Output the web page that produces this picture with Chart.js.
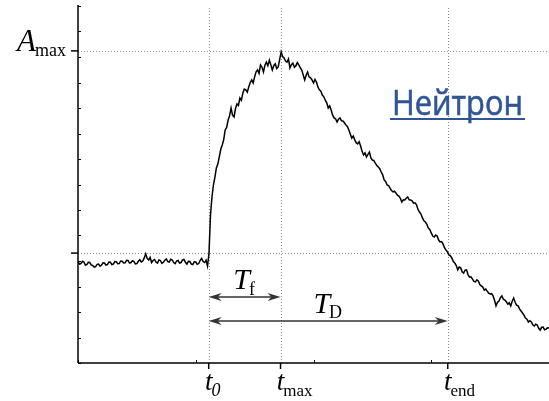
<!DOCTYPE html>
<html>
<head>
<meta charset="utf-8">
<script src="https://cdn.jsdelivr.net/npm/chart.js@4"></script>
<style>
  html, body { margin: 0; padding: 0; background: #fff; }
  #wrap { width: 549px; height: 401px; }
</style>
</head>
<body>
<div id="wrap"><canvas id="pulse"></canvas></div>
<script>
// --- данные ---
const sampleStep = 1.25; // нс между отсчётами
const amplitude = [
  3.98, 3.88, 3.90, 3.99, 3.96, 3.84, 3.86, 3.95, 3.94, 3.85,
  3.82, 3.76, 3.78, 3.87, 3.88, 3.80, 3.84, 3.93, 3.92, 3.84,
  3.86, 3.96, 3.95, 3.86, 3.88, 3.98, 3.97, 3.89, 3.90, 4.00,
  3.99, 3.92, 3.93, 4.03, 4.02, 3.92, 3.94, 4.01, 3.98, 3.89,
  3.90, 3.99, 4.05, 3.96, 4.00, 4.12, 4.28, 4.10, 4.04, 4.14,
  3.94, 4.02, 4.06, 3.96, 3.92, 4.04, 4.02, 3.91, 3.95, 4.03,
  4.08, 3.98, 3.96, 4.07, 4.04, 3.94, 3.90, 4.00, 4.02, 3.92,
  3.94, 4.04, 4.06, 3.95, 3.88, 3.99, 3.98, 3.88, 3.86, 3.97,
  3.96, 3.87, 3.90, 4.02, 4.10, 3.98, 3.94, 4.03, 3.80, 4.30,
  5.80, 6.50, 6.98, 7.28, 7.65, 7.80, 8.08, 8.38, 8.55, 8.76,
  9.14, 9.24, 9.53, 9.70, 10.00, 9.72, 9.65, 9.98, 10.16, 10.10,
  10.39, 10.30, 10.59, 10.74, 10.71, 10.62, 10.82, 11.00, 11.10, 10.98,
  11.22, 11.42, 11.49, 11.36, 11.69, 11.60, 11.41, 11.68, 11.80, 11.66,
  11.88, 11.70, 11.49, 11.66, 11.73, 11.55, 11.61, 11.90, 12.20, 12.02,
  11.96, 11.84, 11.80, 11.92, 11.57, 11.70, 11.76, 11.60, 11.65, 11.78,
  11.69, 11.58, 11.49, 11.30, 11.10, 11.28, 11.41, 11.22, 11.18, 11.10,
  10.98, 11.12, 11.02, 10.82, 10.71, 10.66, 10.51, 10.44, 10.31, 10.20,
  10.00, 10.08, 9.92, 9.72, 9.61, 9.58, 9.45, 9.56, 9.61, 9.50,
  9.49, 9.42, 9.33, 9.28, 9.14, 8.98, 8.82, 8.90, 8.75, 8.64,
  8.59, 8.68, 8.51, 8.30, 8.16, 8.24, 8.08, 8.18, 8.27, 8.04,
  7.96, 7.94, 7.84, 7.74, 7.69, 7.62, 7.49, 7.38, 7.18, 7.12,
  6.98, 6.96, 6.86, 6.76, 6.71, 6.74, 6.67, 6.58, 6.55, 6.46,
  6.31, 6.40, 6.39, 6.46, 6.51, 6.40, 6.39, 6.36, 6.27, 6.28,
  6.20, 6.02, 5.92, 5.84, 5.69, 5.58, 5.53, 5.44, 5.29, 5.24,
  5.10, 4.98, 4.94, 5.02, 4.98, 4.82, 4.75, 4.76, 4.67, 4.52,
  4.43, 4.36, 4.24, 4.20, 4.12, 3.98, 3.92, 3.82, 3.65, 3.76,
  3.73, 3.58, 3.53, 3.64, 3.65, 3.46, 3.37, 3.38, 3.29, 3.20,
  3.18, 3.26, 3.22, 3.08, 3.02, 2.98, 2.86, 2.90, 2.82, 2.74,
  2.71, 2.72, 2.63, 2.46, 2.24, 2.38, 2.43, 2.56, 2.63, 2.50,
  2.47, 2.40, 2.31, 2.36, 2.24, 2.42, 2.55, 2.38, 2.27, 2.24,
  2.12, 2.04, 1.96, 1.88, 1.76, 1.72, 1.61, 1.66, 1.61, 1.50,
  1.45, 1.52, 1.49, 1.36, 1.29, 1.40, 1.41, 1.30, 1.33, 1.38,
  1.37
];
const markerTimes = [111, 172, 314];       // t0, tmax, tend (нс)
const markerSubs = ['0', 'max', 'end'];
const levelValues = [12.24, 4.31];         // A_max и уровень фона
const minorX = [0, 100, 200, 300, 400];
const minorY = [0, 1, 2, 3, 4, 5, 6, 7, 8, 9, 10, 11, 12, 13, 14];

const points = amplitude.map((a, i) => ({ x: i * sampleStep, y: a }));

function seg(ctx, x1, y1, x2, y2) {
  ctx.beginPath(); ctx.moveTo(x1, y1); ctx.lineTo(x2, y2); ctx.stroke();
}

function arrowHead(ctx, tipX, y, dir) {
  ctx.beginPath();
  ctx.moveTo(tipX, y);
  ctx.lineTo(tipX - 13 * dir, y - 4);
  ctx.lineTo(tipX - 9 * dir, y);
  ctx.lineTo(tipX - 13 * dir, y + 4);
  ctx.closePath();
  ctx.fill();
}

// буква с индексом; align: 'center' — по основной букве, 'group' — по всей надписи, 'right'
function subLabel(ctx, main, sub, x, y, mainFont, subFont, subDy, align) {
  ctx.font = mainFont;
  const mw = ctx.measureText(main).width;
  ctx.font = subFont;
  const sw = ctx.measureText(sub).width;
  let left = x - mw / 2;
  if (align === 'group') left = x - (mw + sw) / 2;
  if (align === 'right') left = x - mw - sw;
  ctx.textAlign = 'left';
  ctx.textBaseline = 'alphabetic';
  ctx.font = mainFont;
  ctx.fillText(main, left, y);
  ctx.font = subFont;
  ctx.fillText(sub, left + mw - 1, y + subDy);
}

const overlay = {
  id: 'overlay',
  beforeDatasetsDraw(chart) {
    const { ctx, chartArea: a, scales: { x, y } } = chart;
    ctx.save();
    ctx.strokeStyle = '#8a8a8a';
    ctx.lineWidth = 1;
    ctx.setLineDash([1, 2]);
    levelValues.forEach(v => {
      const py = Math.round(y.getPixelForValue(v)) + 0.5;
      seg(ctx, a.left, py, a.right, py);
    });
    markerTimes.forEach(t => {
      const px = Math.round(x.getPixelForValue(t)) + 0.5;
      seg(ctx, px, a.top + 2, px, a.bottom);
    });
    ctx.restore();
  },
  afterDatasetsDraw(chart) {
    const { ctx, chartArea: a, scales: { x, y } } = chart;
    ctx.save();
    ctx.strokeStyle = '#000';
    ctx.fillStyle = '#000';
    ctx.lineWidth = 1.5;
    // оси
    seg(ctx, a.left, a.top - 1, a.left, a.bottom);
    seg(ctx, a.left, a.bottom, a.right, a.bottom);
    // мелкие засечки внутрь
    ctx.lineWidth = 1;
    minorY.forEach(v => {
      const py = Math.round(y.getPixelForValue(v)) + 0.5;
      seg(ctx, a.left, py, a.left + 3, py);
    });
    minorX.forEach(t => {
      const px = Math.round(x.getPixelForValue(t)) + 0.5;
      seg(ctx, px, a.bottom, px, a.bottom - 3);
    });
    // основные засечки наружу
    ctx.lineWidth = 1.5;
    levelValues.forEach(v => {
      const py = y.getPixelForValue(v);
      seg(ctx, a.left - 7, py, a.left, py);
    });
    markerTimes.forEach(t => {
      const px = x.getPixelForValue(t);
      seg(ctx, px, a.bottom, px, a.bottom + 6);
    });

    // подписи
    const serif = '"Liberation Serif", "DejaVu Serif", serif';
    subLabel(ctx, 'A', 'max', 67, y.getPixelForValue(levelValues[0]), 'italic 31px ' + serif, '18px ' + serif, 5, 'right');
    markerTimes.forEach((t, i) => {
      const px = x.getPixelForValue(t);
      const subFont = i === 0 ? 'italic 18px ' + serif : '17px ' + serif;
      subLabel(ctx, 't', markerSubs[i], px, a.bottom + 27, 'italic 27px ' + serif, subFont, 6, 'center');
    });

    // стрелки T_f и T_D
    const p0 = x.getPixelForValue(markerTimes[0]);
    const p1 = x.getPixelForValue(markerTimes[1]);
    const p2 = x.getPixelForValue(markerTimes[2]);
    ctx.strokeStyle = '#333';
    ctx.fillStyle = '#333';
    ctx.lineWidth = 1.5;
    const yF = 297, yD = 321;
    seg(ctx, p0 + 4, yF, p1 - 4, yF);
    arrowHead(ctx, p0, yF, -1);
    arrowHead(ctx, p1, yF, 1);
    seg(ctx, p0 + 4, yD, p2 - 4, yD);
    arrowHead(ctx, p0, yD, -1);
    arrowHead(ctx, p2, yD, 1);
    ctx.fillStyle = '#000';
    subLabel(ctx, 'T', 'f', (p0 + p1) / 2, yF - 8, 'italic 30px ' + serif, '18px ' + serif, 6, 'group');
    subLabel(ctx, 'T', 'D', (p0 + p2) / 2, yD - 8, 'italic 30px ' + serif, '18px ' + serif, 5, 'group');

    // надпись «Нейтрон»
    const word = 'Нейтрон';
    ctx.font = '34px "Open Sans", sans-serif';
    const w = ctx.measureText(word).width;
    const target = 131;
    ctx.save();
    ctx.translate(392, 115);
    ctx.scale(target / w, 1);
    ctx.fillStyle = '#2f5597';
    ctx.strokeStyle = '#2f5597';
    ctx.lineWidth = 0.6;
    ctx.textAlign = 'left';
    ctx.textBaseline = 'alphabetic';
    ctx.fillText(word, 0, 0);
    ctx.strokeText(word, 0, 0);
    ctx.restore();
    ctx.fillStyle = '#2f5597';
    ctx.fillRect(390, 118, 135, 2);
    ctx.restore();
  }
};

new Chart(document.getElementById('pulse'), {
  type: 'line',
  data: {
    datasets: [{
      data: points,
      borderColor: '#000',
      borderWidth: 1.5,
      pointRadius: 0,
      tension: 0,
      fill: false
    }]
  },
  options: {
    responsive: true,
    maintainAspectRatio: false,
    animation: false,
    layout: { padding: { left: 78, right: 0, top: 6, bottom: 38 } },
    scales: {
      x: { type: 'linear', min: 0, max: 400, display: false },
      y: { min: 0, max: 14, display: false }
    },
    plugins: { legend: { display: false }, tooltip: { enabled: false } }
  },
  plugins: [overlay]
});
</script>
</body>
</html>
